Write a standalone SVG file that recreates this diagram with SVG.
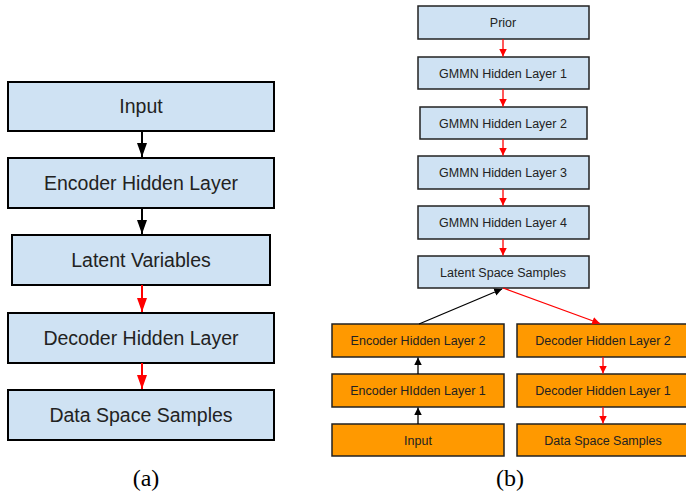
<svg xmlns="http://www.w3.org/2000/svg" width="686" height="493" viewBox="0 0 686 493">
<style>
.bl{fill:#cfe2f3;stroke:#000;stroke-width:2}
.br{fill:#cfe2f3;stroke:#222;stroke-width:1.5}
.or{fill:#ff9900;stroke:#222;stroke-width:1.5}
.tl{font-family:"Liberation Sans",Arial,sans-serif;font-size:19.5px;fill:#222;text-anchor:middle}
.tr{font-family:"Liberation Sans",Arial,sans-serif;font-size:12.5px;fill:#222;text-anchor:middle}
.cap{font-family:"Liberation Serif","Times New Roman",serif;font-size:24px;fill:#000;text-anchor:middle}
.k{stroke:#000;fill:none}
.r{stroke:#ff0000;fill:none}
</style>
<defs>
<marker id="ak" viewBox="0 0 14 10" refX="14" refY="5" markerWidth="7" markerHeight="5" markerUnits="strokeWidth" orient="auto"><path d="M0,0 L14,5 L0,10 z" fill="#000"/></marker>
<marker id="ar" viewBox="0 0 14 10" refX="14" refY="5" markerWidth="7" markerHeight="5" markerUnits="strokeWidth" orient="auto"><path d="M0,0 L14,5 L0,10 z" fill="#ff0000"/></marker>
<marker id="aks" viewBox="0 0 10 10" refX="10" refY="5" markerWidth="6" markerHeight="6" markerUnits="strokeWidth" orient="auto"><path d="M0,0 L10,5 L0,10 z" fill="#000"/></marker>
<marker id="ars" viewBox="0 0 10 10" refX="10" refY="5" markerWidth="6" markerHeight="6" markerUnits="strokeWidth" orient="auto"><path d="M0,0 L10,5 L0,10 z" fill="#ff0000"/></marker>
</defs>

<g id="a-input"><rect class="bl" x="8" y="82" width="266" height="49"/><text class="tl" x="141" y="113">Input</text></g>
<g id="a-encoder"><rect class="bl" x="8" y="158" width="266" height="50"/><text class="tl" x="141" y="190">Encoder Hidden Layer</text></g>
<g id="a-latent"><rect class="bl" x="12" y="235" width="258" height="50"/><text class="tl" x="141" y="267">Latent Variables</text></g>
<g id="a-decoder"><rect class="bl" x="8" y="313" width="266" height="50"/><text class="tl" x="141" y="345">Decoder Hidden Layer</text></g>
<g id="a-data"><rect class="bl" x="8" y="390" width="266" height="50"/><text class="tl" x="141" y="422">Data Space Samples</text></g>
<text class="cap" x="146" y="486">(a)</text>

<g id="b-prior"><rect class="br" x="418" y="6" width="171" height="33"/><text class="tr" x="503" y="27">Prior</text></g>
<g id="b-g1"><rect class="br" x="418" y="57" width="171" height="32"/><text class="tr" x="503" y="77.5">GMMN Hidden Layer 1</text></g>
<g id="b-g2"><rect class="br" x="420" y="107" width="167" height="32"/><text class="tr" x="503" y="127.5">GMMN Hidden Layer 2</text></g>
<g id="b-g3"><rect class="br" x="418" y="156" width="171" height="33"/><text class="tr" x="503" y="177">GMMN Hidden Layer 3</text></g>
<g id="b-g4"><rect class="br" x="418" y="206" width="171" height="33"/><text class="tr" x="503" y="227">GMMN Hidden Layer 4</text></g>
<g id="b-latent"><rect class="br" x="418" y="256" width="171" height="32"/><text class="tr" x="503" y="276.5">Latent Space Samples</text></g>
<g id="b-enc2"><rect class="or" x="332" y="324" width="172" height="33"/><text class="tr" x="418" y="345">Encoder Hidden Layer 2</text></g>
<g id="b-enc1"><rect class="or" x="332" y="374" width="172" height="33"/><text class="tr" x="418" y="395">Encoder HIdden Layer 1</text></g>
<g id="b-input"><rect class="or" x="332" y="424" width="172" height="32"/><text class="tr" x="418" y="444.5">Input</text></g>
<g id="b-dec2"><rect class="or" x="517" y="324" width="172" height="33"/><text class="tr" x="603" y="345">Decoder Hidden Layer 2</text></g>
<g id="b-dec1"><rect class="or" x="517" y="374" width="172" height="33"/><text class="tr" x="603" y="395">Decoder Hidden Layer 1</text></g>
<g id="b-data"><rect class="or" x="517" y="424" width="172" height="32"/><text class="tr" x="603" y="444.5">Data Space Samples</text></g>
<text class="cap" x="510" y="486">(b)</text>

<g id="connectors">
<line class="k" x1="142" y1="131" x2="142" y2="157" stroke-width="2" marker-end="url(#ak)"/>
<line class="k" x1="142" y1="208" x2="142" y2="234" stroke-width="2" marker-end="url(#ak)"/>
<line class="r" x1="142" y1="285" x2="142" y2="312" stroke-width="2" marker-end="url(#ar)"/>
<line class="r" x1="142" y1="363" x2="142" y2="389" stroke-width="2" marker-end="url(#ar)"/>

<line class="r" x1="503" y1="39" x2="503" y2="56.5" stroke-width="1.3" marker-end="url(#ars)"/>
<line class="r" x1="503" y1="89" x2="503" y2="106.5" stroke-width="1.3" marker-end="url(#ars)"/>
<line class="r" x1="503" y1="139" x2="503" y2="155.5" stroke-width="1.3" marker-end="url(#ars)"/>
<line class="r" x1="503" y1="189" x2="503" y2="205.5" stroke-width="1.3" marker-end="url(#ars)"/>
<line class="r" x1="503" y1="239" x2="503" y2="255.5" stroke-width="1.3" marker-end="url(#ars)"/>
<line class="k" x1="419" y1="324" x2="502" y2="289" stroke-width="1.3" marker-end="url(#aks)"/>
<line class="r" x1="503" y1="288" x2="600" y2="323.5" stroke-width="1.3" marker-end="url(#ars)"/>
<line class="k" x1="418" y1="374" x2="418" y2="357.5" stroke-width="1.3" marker-end="url(#aks)"/>
<line class="k" x1="418" y1="424" x2="418" y2="407.5" stroke-width="1.3" marker-end="url(#aks)"/>
<line class="r" x1="603" y1="357" x2="603" y2="373.5" stroke-width="1.3" marker-end="url(#ars)"/>
<line class="r" x1="603" y1="407" x2="603" y2="423.5" stroke-width="1.3" marker-end="url(#ars)"/>
</g>
</svg>
